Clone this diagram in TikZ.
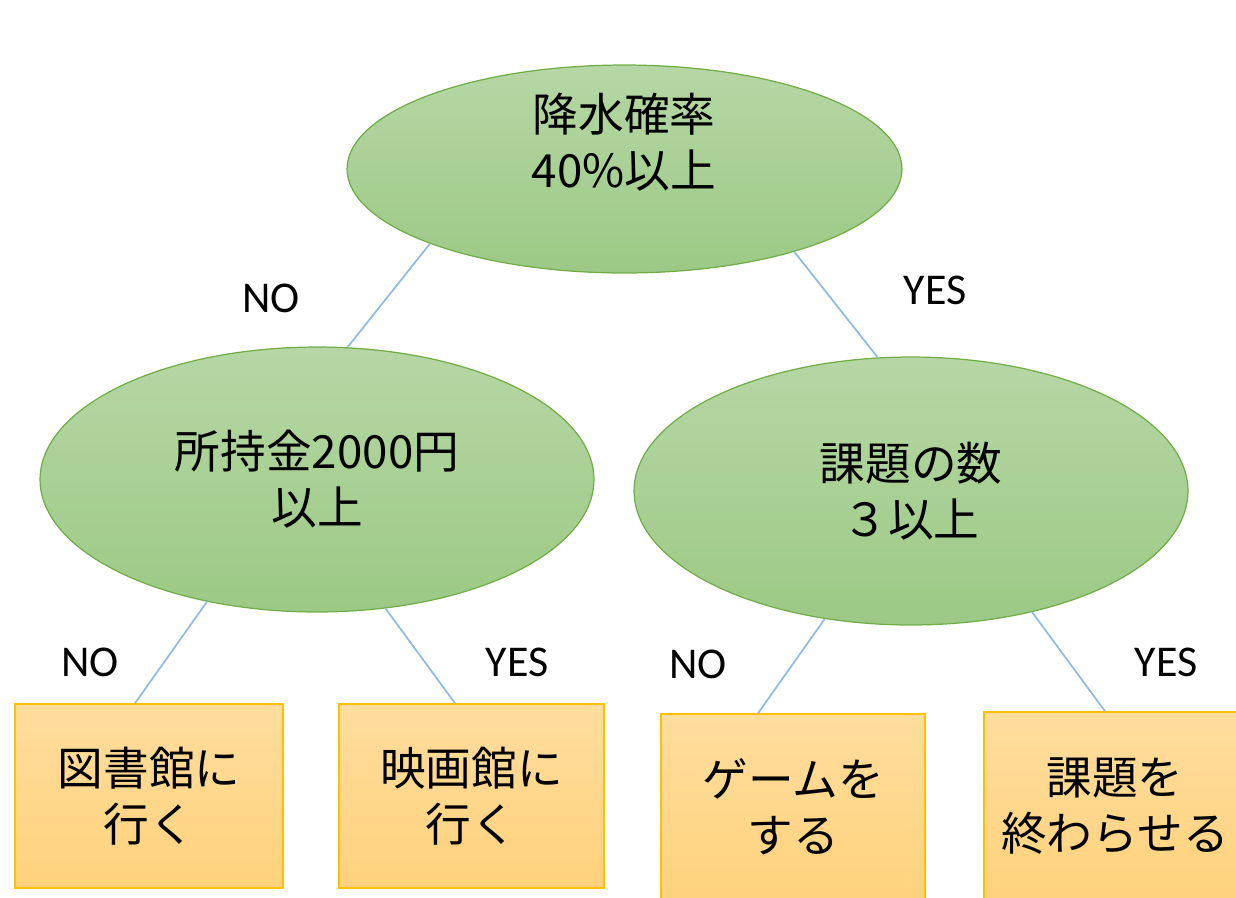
\documentclass[tikz,border=0pt]{standalone}
\usepackage{fontspec}
\setmainfont{Noto Sans CJK JP}
\newfontfamily\latf{Carlito}
\usetikzlibrary{shapes.geometric,calc}
\definecolor{gtop}{HTML}{B6D7A5}
\definecolor{gbot}{HTML}{9CC985}
\definecolor{gline}{HTML}{70AD47}
\definecolor{ytop}{HTML}{FFDD9E}
\definecolor{ybot}{HTML}{FFD27C}
\definecolor{yline}{HTML}{FFC000}
\definecolor{conncol}{HTML}{8FBBE4}
\begin{document}
\begin{tikzpicture}[x=0.02cm,y=-0.02cm,
  cond/.style={ellipse, draw=gline, line width=0.7pt, top color=gtop, bottom color=gbot,
    inner sep=0pt, align=center, font=\fontsize{26}{32}\selectfont},
  leaf/.style={rectangle, draw=yline, line width=0.9pt, top color=ytop, bottom color=ybot,
    inner sep=0pt, align=center, font=\fontsize{26}{32}\selectfont},
  txt/.style={inner sep=0pt, align=center, font=\fontsize{26}{32}\selectfont},
  lab/.style={inner sep=0pt, font=\latf\fontsize{25}{30}\selectfont},
  connector/.style={draw=conncol, line width=1pt}]
\useasboundingbox (0,0) rectangle (1236,897);
\clip (0,0) rectangle (1236,897);

% condition nodes
\node[cond, minimum width=11.1cm, minimum height=4.16cm] (top) at (624.5,169) {};
\node[txt] (toptext) at (624,142) {降水確率\\40\%以上};
\node[cond, minimum width=11.08cm, minimum height=5.3cm] (left) at (317,479.5) {所持金2000円\\以上};
\node[cond, minimum width=11.08cm, minimum height=5.36cm] (right) at (911,491) {課題の数\\３以上};

% leaves
\node[leaf, minimum width=5.36cm, minimum height=3.68cm] (b1) at (149,796) {図書館に\\行く};
\node[leaf, minimum width=5.3cm, minimum height=3.68cm] (b2) at (471.5,796) {映画館に\\行く};
\node[leaf, minimum width=5.28cm, minimum height=3.72cm] (b3) at (793,807) {ゲームを\\する};
\node[leaf, minimum width=5.24cm, minimum height=3.76cm] (b4) at (1115,806) {課題を\\終わらせる};

% connectors
\draw[connector] (top.201) -- (left.77.2);
\draw[connector] (top.334.3) -- (right.104.6);
\draw[connector] (left.228.3) -- ($(b1.north)+(-14,0)$);
\draw[connector] (left.298.5) -- ($(b2.north)+(-16.5,0)$);
\draw[connector] (right.236.6) -- ($(b3.north)+(-35,0)$);
\draw[connector] (right.315) -- ($(b4.north)+(-10,0)$);

% labels
\node[lab] (l1) at (271,298) {NO};
\node[lab] (l2) at (935,290) {YES};
\node[lab] (l3) at (90,662) {NO};
\node[lab] (l4) at (517,662) {YES};
\node[lab] (l5) at (698,664) {NO};
\node[lab] (l6) at (1166,662) {YES};
\end{tikzpicture}
\end{document}
